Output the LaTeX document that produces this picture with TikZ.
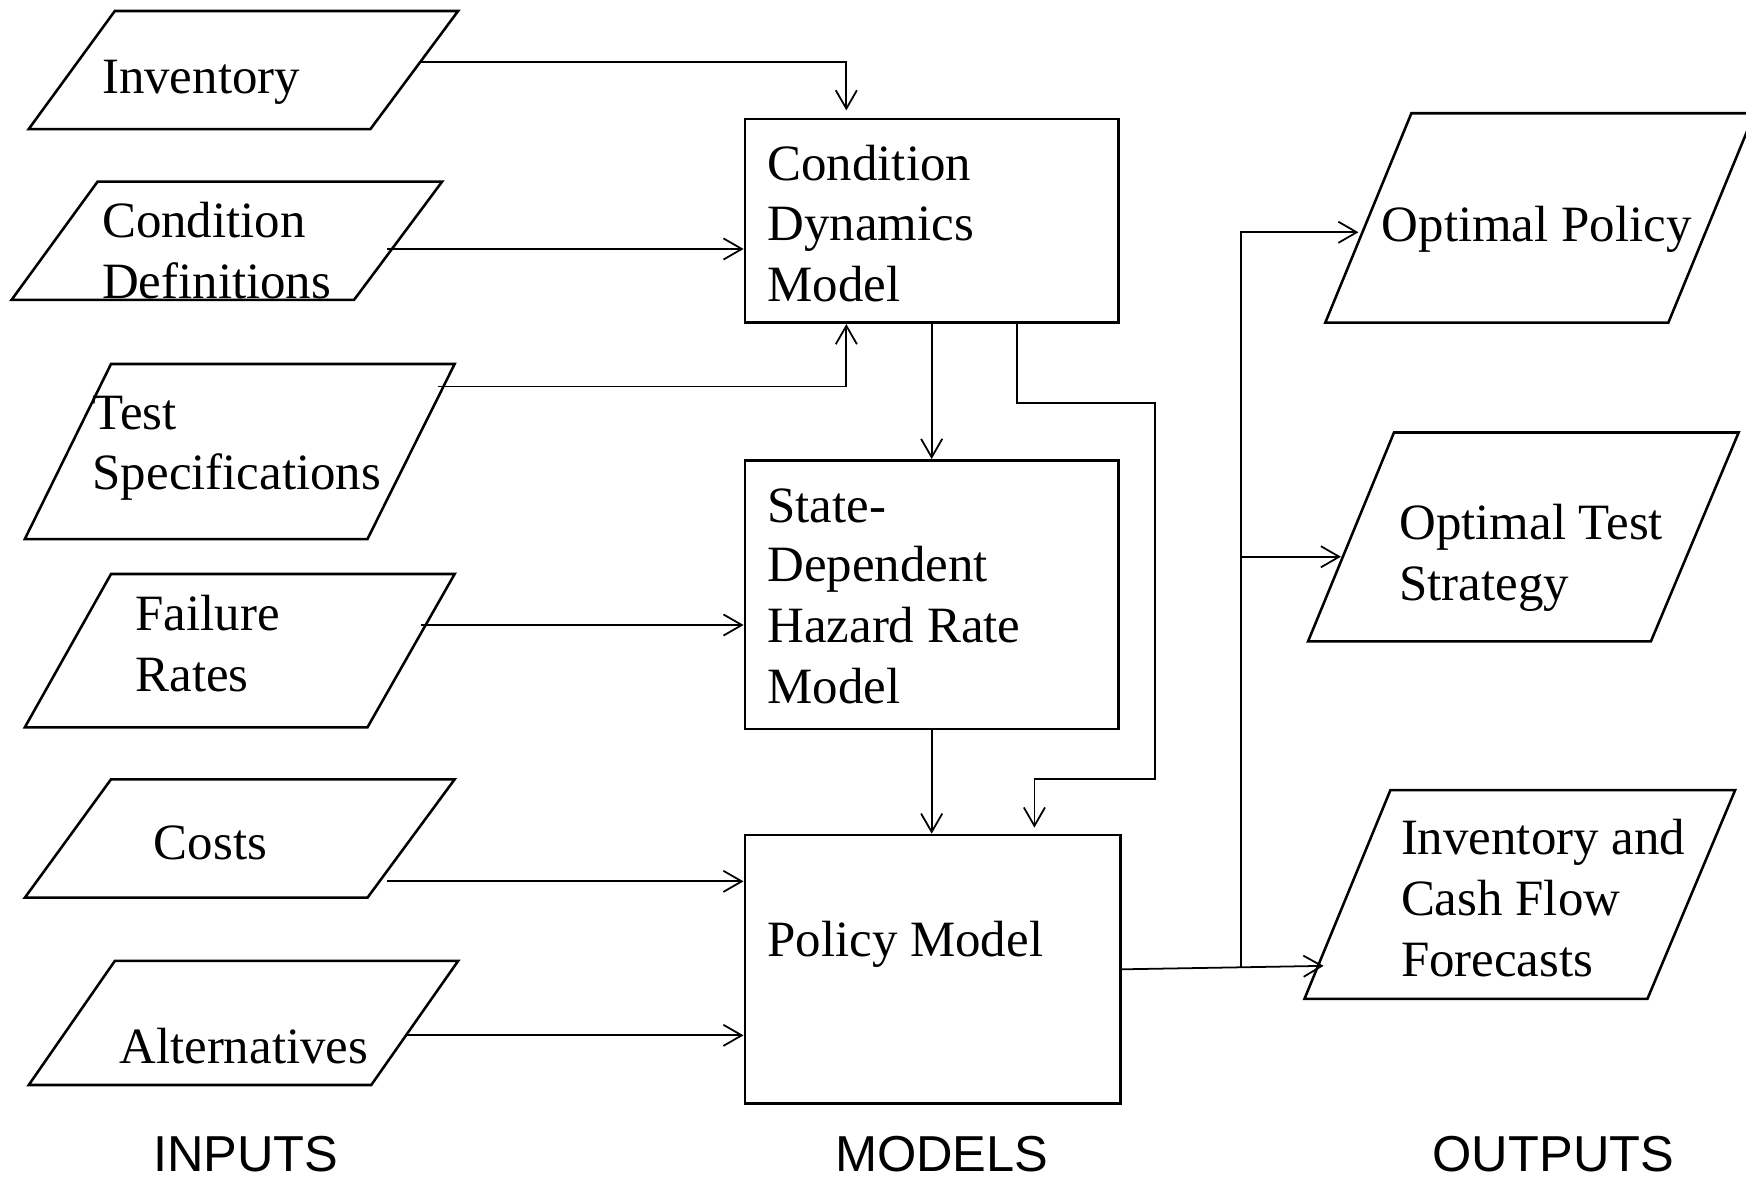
\documentclass[tikz,border=0pt]{standalone}
\usepackage{fontspec}
\setmainfont{Liberation Serif}
\setsansfont{Liberation Sans}
\usetikzlibrary{arrows.meta}
\tikzset{
  para/.style={draw, line width=0.65pt, line join=miter},
  box/.style={draw, line width=0.68pt, inner sep=0pt, minimum width=3.352cm},
  conn/.style={line width=0.45pt, -{Straight Barb[length=1.65mm, width=1.9mm, line width=0.45pt]}},
  plain/.style={line width=0.45pt},
  txt/.style={anchor=base west, inner sep=0pt, font=\fontsize{13}{15.6}\selectfont},
  captext/.style={anchor=base, inner sep=0pt, font=\sffamily\fontsize{12.9}{15}\selectfont}
}
\begin{document}
\begin{tikzpicture}[x=0.01cm, y=-0.01cm]
\useasboundingbox (0,0) rectangle (1568,1058);

% ---------- input parallelograms ----------
\draw[para] (103.1,9.9) -- (411.4,9.9) -- (332.7,115.9) -- (25.8,115.9) -- cycle;
\draw[para] (87.6,163.2) -- (397,163.2) -- (317.9,269.4) -- (10.3,269.4) -- cycle;
\draw[para] (99.7,326.9) -- (408.3,326.9) -- (330,484.1) -- (22.3,484.1) -- cycle;
\draw[para] (99.7,515.5) -- (408.3,515.5) -- (330,653.2) -- (22.3,653.2) -- cycle;
\draw[para] (99.7,699.9) -- (408.3,699.9) -- (330,806.2) -- (22.3,806.2) -- cycle;
\draw[para] (103.1,863) -- (411.4,863) -- (333.4,974.4) -- (25.8,974.4) -- cycle;

\node[txt] (tInv) at (91,83.8) {Inventory};
\node[txt] (tCd1) at (91,213.1) {Condition};
\node[txt] (tCd2) at (91,267.9) {Definitions};
\node[txt] (tTs1) at (82.5,385.6) {Test};
\node[txt] (tTs2) at (82.5,440) {Specifications};
\node[txt] (tFr1) at (121,565.8) {Failure};
\node[txt] (tFr2) at (121,621) {Rates};
\node[txt] (tCo) at (137.5,772.3) {Costs};
\node[txt] (tAl) at (106.5,955) {Alternatives};

% ---------- model boxes ----------
\node[box, minimum height=1.829cm] (cdm) at (836.7,198.35) {};
\node[box, minimum height=2.412cm] (sdh) at (836.7,534.1) {};
\node[box, minimum width=3.374cm, minimum height=2.41cm] (pol) at (837.7,870.5) {};

\node[txt] (tM1) at (688.5,161.7) {Condition};
\node[txt] (tM2) at (688.5,216.4) {Dynamics};
\node[txt] (tM3) at (688.5,271) {Model};
\node[txt] (tS1) at (688.5,468.8) {State-};
\node[txt] (tS2) at (688.5,522.3) {Dependent};
\node[txt] (tS3) at (688.5,576.6) {Hazard Rate};
\node[txt] (tS4) at (688.5,631.8) {Model};
\node[txt] (tP1) at (688.5,858.6) {Policy Model};

% ---------- output parallelograms ----------
\draw[para] (1267.5,101.7) -- (1575.6,101.7) -- (1498.3,289.7) -- (1190.2,289.7) -- cycle;
\draw[para] (1251.9,388.4) -- (1561.4,388.4) -- (1482.6,576) -- (1174.7,576) -- cycle;
\draw[para] (1248.7,709.5) -- (1558.3,709.5) -- (1479.5,897) -- (1171.5,897) -- cycle;

\node[txt] (tO1) at (1240.3,217.2) {Optimal Policy};
\node[txt] (tT1) at (1256,484.6) {Optimal Test};
\node[txt] (tT2) at (1256,539.6) {Strategy};
\node[txt] (tF1) at (1257.5,767.3) {Inventory and};
\node[txt] (tF2) at (1257.5,822.1) {Cash Flow};
\node[txt] (tF3) at (1257.5,877.2) {Forecasts};

% ---------- captions ----------
\node[captext] (cIn) at (220.8,1052) {INPUTS};
\node[captext] (cMo) at (845.7,1052) {MODELS};
\node[captext] (cOu) at (1395,1052) {OUTPUTS};

% ---------- connector end points ----------
\coordinate (invR) at (378,55.4);
\coordinate (cdR) at (347.8,223.6);
\coordinate (tsR) at (393.5,347);
\coordinate (frR) at (378,561.3);
\coordinate (coR) at (347.8,791.5);
\coordinate (alR) at (363.6,929.8);
\coordinate (lpA) at (1037.3,362.2);
\coordinate (lpB) at (1037.3,699.9);
\coordinate (bus) at (1114.3,868.7);
\coordinate (opL) at (1220,208.6);
\coordinate (otL) at (1204.3,500);
\coordinate (icL) at (1188.7,867.4);

% ---------- connectors ----------
\draw[conn, shorten >=0.065cm] (invR) -| ([xshift=0.922cm]cdm.north west);
\draw[conn] (cdR) -- (cdR -| cdm.west);
\draw[conn] (tsR) -| ([xshift=0.922cm]cdm.south west);
\draw[conn] (frR) -- (frR -| sdh.west);
\draw[conn] (coR) -- (coR -| pol.west);
\draw[conn] (alR) -- (alR -| pol.west);
\draw[conn] (cdm.south) -- (sdh.north);
\draw[conn] (sdh.south) -- (sdh.south |- pol.north);
\draw[conn, shorten >=0.055cm] ([xshift=2.454cm]cdm.south west) |- (lpA) -- (lpB) -| ([xshift=2.611cm]pol.north west);
\draw[conn] (pol.east) -- (bus) -- (icL);
\draw[conn] (bus) |- (opL);
\draw[conn] (bus |- otL) -- (otL);
\end{tikzpicture}
\end{document}
